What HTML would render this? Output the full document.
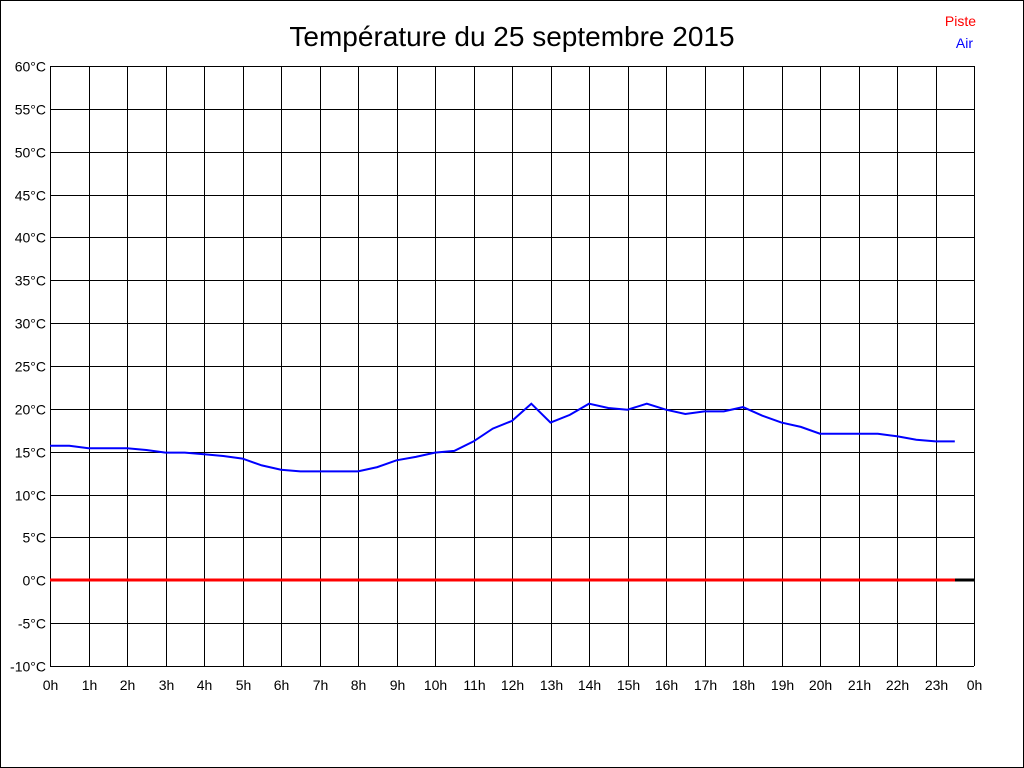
<!DOCTYPE html>
<html><head><meta charset="utf-8"><style>
body{margin:0;background:#fff}
svg{display:block;font-family:"Liberation Sans",sans-serif}
</style></head><body>
<svg width="1024" height="768" xmlns="http://www.w3.org/2000/svg">
<rect x="0.5" y="0.5" width="1023" height="767" fill="#fff" stroke="#000"/>
<text x="512" y="46" font-size="28" text-anchor="middle">Température du 25 septembre 2015</text>
<text x="976" y="26" font-size="14" fill="#f00" text-anchor="end">Piste</text>
<text x="973" y="48" font-size="14" fill="#00f" text-anchor="end">Air</text>
<g id="grid" stroke="#000" stroke-width="1" shape-rendering="crispEdges"></g>
<g id="lab" font-size="14" fill="#000"></g>
<line x1="50" y1="580" x2="974" y2="580" stroke="#000" stroke-width="3"/>
<line x1="50" y1="580" x2="955" y2="580" stroke="#f00" stroke-width="3"/>
<polyline id="air" fill="none" stroke="#00f" stroke-width="2"/>
</svg>
<script>
var ns="http://www.w3.org/2000/svg",g=document.getElementById('grid'),l=document.getElementById('lab');
function el(p,t,a){var e=document.createElementNS(ns,t);for(var k in a)e.setAttribute(k,a[k]);p.appendChild(e);return e;}
for(var i=0;i<=14;i++){var y=Math.round(66+i*600/14)+0.5;el(g,'line',{x1:50,y1:y,x2:974,y2:y});
var t=el(l,'text',{x:46,y:y+5,'text-anchor':'end'});t.textContent=(60-5*i)+'°C';}
for(var i=0;i<=24;i++){var x=Math.round(50+i*38.5)+0.5;el(g,'line',{x1:x,y1:66,x2:x,y2:666});
var t=el(l,'text',{x:x,y:690,'text-anchor':'middle'});t.textContent=(i%24)+'h';}
var d=[15.7,15.7,15.4,15.4,15.4,15.2,14.9,14.9,14.7,14.5,14.2,13.4,12.9,12.7,12.7,12.7,12.7,13.2,14.0,14.4,14.9,15.1,16.2,17.7,18.6,20.6,18.4,19.3,20.6,20.1,19.9,20.6,19.9,19.4,19.7,19.7,20.2,19.2,18.4,17.9,17.1,17.1,17.1,17.1,16.8,16.4,16.2,16.2];
var p=d.map(function(v,i){return (50+i*19.25).toFixed(1)+','+(66+(60-v)*600/70).toFixed(1)}).join(' ');
document.getElementById('air').setAttribute('points',p);
</script>
</body></html>
